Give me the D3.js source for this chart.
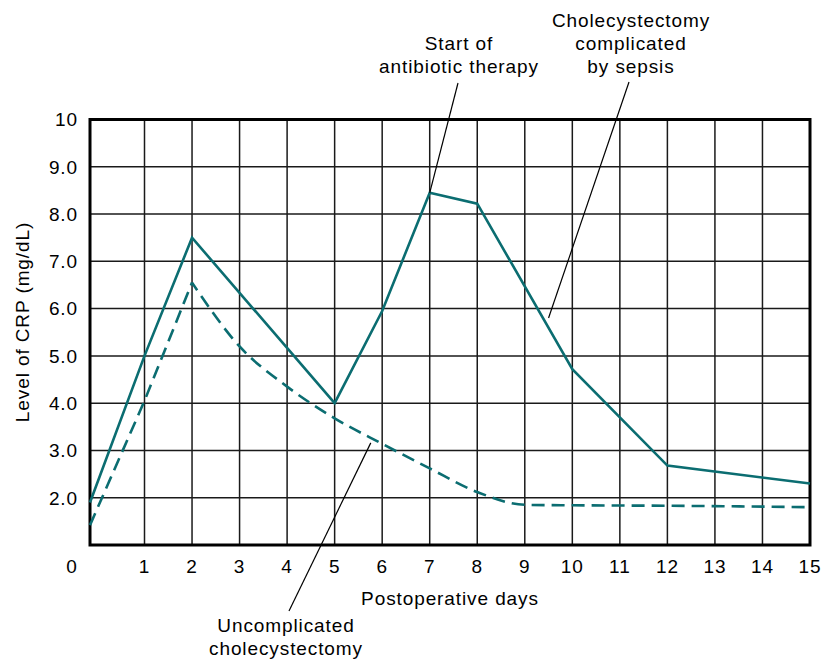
<!DOCTYPE html>
<html>
<head>
<meta charset="utf-8">
<script src="https://cdn.jsdelivr.net/npm/d3@7"></script>
<style>
  body { margin: 0; background: #fff; }
  svg { display: block; font-family: "Liberation Sans", Arial, sans-serif; }
  text { font-size: 19px; letter-spacing: 0.9px; }
</style>
</head>
<body>
<svg id="chart"></svg>
<script>
const width = 831;
const height = 665;

// data
const days = [0, 1, 2, 5, 6, 7, 8, 10, 12, 15];
const sepsisCRP = [1.9, 5.0, 7.5, 4.0, 5.95, 8.45, 8.22, 4.72, 2.68, 2.3];

const uncompDays = [0, 1, 2, 3, 4, 5, 6, 7, 8, 9, 10, 12, 15];
const uncompCRP = [1.42, 4.05, 6.55, 5.2, 4.35, 3.68, 3.14, 2.62, 2.12, 1.85, 1.84, 1.83, 1.8];

const xTicks = d3.range(0, 16);
const yTicks = [2, 3, 4, 5, 6, 7, 8, 9, 10];

const notes = [
  { lines: ["Start of", "antibiotic therapy"], day: 7, value: 8.45 },
  { lines: ["Cholecystectomy", "complicated", "by sepsis"], day: 9.5, value: 5.8 },
  { lines: ["Uncomplicated", "cholecystectomy"], day: 5.76, value: 3.16 }
];

const teal = "#0b6d71";

let svg = d3.select("#chart").attr("width", width).attr("height", height);

// the first day cell is a little wider in the original drawing
let x = d3.scaleLinear().domain([0, 1, 15]).range([90, 144.5, 810]);
let y = d3.scaleLinear().domain([1, 10]).range([545, 119.5]);

// grid
svg.append("g")
  .selectAll("line")
  .data(xTicks.filter(d => d > 0 && d < 15))
  .enter()
  .append("line")
  .attr("x1", d => x(d)).attr("x2", d => x(d))
  .attr("y1", y(10)).attr("y2", y(1))
  .attr("stroke", "#1a1a1a")
  .attr("stroke-width", 1.5);

svg.append("g")
  .selectAll("line")
  .data(yTicks.filter(d => d < 10))
  .enter()
  .append("line")
  .attr("x1", x(0)).attr("x2", x(15))
  .attr("y1", d => y(d)).attr("y2", d => y(d))
  .attr("stroke", "#1a1a1a")
  .attr("stroke-width", 1.5);

svg.append("rect")
  .attr("x", x(0)).attr("y", y(10))
  .attr("width", x(15) - x(0))
  .attr("height", y(1) - y(10))
  .attr("fill", "none")
  .attr("stroke", "#000")
  .attr("stroke-width", 3);

// tick labels
svg.append("g")
  .selectAll("text")
  .data(yTicks)
  .enter()
  .append("text")
  .attr("x", 78)
  .attr("y", d => y(d))
  .attr("dy", "0.36em")
  .attr("text-anchor", "end")
  .text(d => d === 10 ? "10" : d3.format(".1f")(d));

svg.append("g")
  .selectAll("text")
  .data(xTicks)
  .enter()
  .append("text")
  .attr("x", d => d === 0 ? x(0) - 18 : x(d))
  .attr("y", 573)
  .attr("text-anchor", "middle")
  .text(d => d);

svg.append("text")
  .attr("x", 450).attr("y", 605)
  .attr("text-anchor", "middle")
  .text("Postoperative days");

svg.append("text")
  .attr("transform", "translate(29,322) rotate(-90)")
  .attr("text-anchor", "middle")
  .text("Level of CRP (mg/dL)");

// series
let sepsisLine = d3.line().x(d => x(d[0])).y(d => y(d[1]));

svg.append("path")
  .datum(d3.zip(days, sepsisCRP))
  .attr("d", sepsisLine)
  .attr("fill", "none")
  .attr("stroke", teal)
  .attr("stroke-width", 2.6)
  .attr("stroke-linejoin", "miter");

let uncompLine = d3.line()
  .x(d => x(d[0])).y(d => y(d[1]))
  .curve(d3.curveMonotoneX);

let uncompPts = d3.zip(uncompDays, uncompCRP);

svg.append("path")
  .datum(uncompPts.slice(0, 3))
  .attr("d", d3.line().x(d => x(d[0])).y(d => y(d[1])))
  .attr("fill", "none")
  .attr("stroke", teal)
  .attr("stroke-width", 2.6)
  .attr("stroke-dasharray", "13,7");

svg.append("path")
  .datum(uncompPts.slice(2))
  .attr("d", uncompLine)
  .attr("fill", "none")
  .attr("stroke", teal)
  .attr("stroke-width", 2.6)
  .attr("stroke-dasharray", "13,7")
  .attr("stroke-dashoffset", 4);

// annotations
let labelPos = [
  { tx: 459, ty: 50, lx: 458, ly: 83 },
  { tx: 631, ty: 27, lx: 629, ly: 82 },
  { tx: 286, ty: 632, lx: 289, ly: 611 }
];

notes.forEach((n, i) => {
  let p = labelPos[i];
  svg.append("line")
    .attr("x1", p.lx).attr("y1", p.ly)
    .attr("x2", x(n.day)).attr("y2", y(n.value))
    .attr("stroke", "#000")
    .attr("stroke-width", 1.2);
  let t = svg.append("text")
    .attr("text-anchor", "middle");
  n.lines.forEach((l, j) => {
    t.append("tspan")
      .attr("x", p.tx)
      .attr("y", p.ty + j * 23)
      .text(l);
  });
});
</script>
</body>
</html>
